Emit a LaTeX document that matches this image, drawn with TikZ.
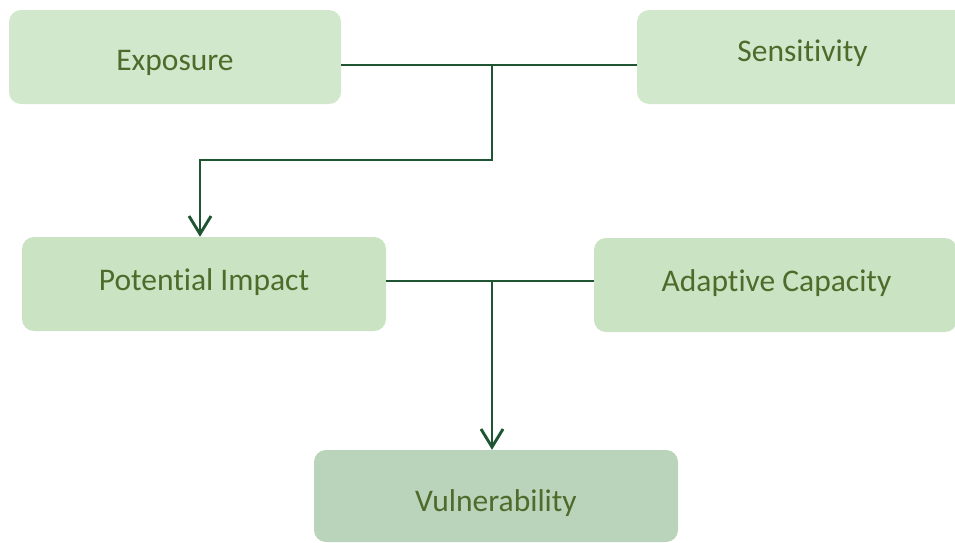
\documentclass[tikz,border=0pt]{standalone}
\usepackage{fontspec}
\setmainfont[RawFeature={-liga;-clig}]{Carlito}
\usetikzlibrary{arrows.meta}
\definecolor{boxa}{HTML}{D1E8CC}
\definecolor{boxb}{HTML}{C9E3C3}
\definecolor{boxc}{HTML}{B9D4BA}
\definecolor{txt}{HTML}{4F6A2A}
\definecolor{ln}{HTML}{1F5532}
\tikzset{
  box/.style={rectangle, rounded corners=12pt, draw=none, inner sep=0pt, minimum height=94pt},
  lbl/.style={anchor=base, inner sep=0pt, text=txt, font=\fontsize{31.5pt}{36pt}\selectfont},
  conn/.style={draw=ln, line width=2.9pt},
  arr/.style={conn, -{Straight Barb[length=18pt,width=22pt,line width=2.9pt]}}
}
\begin{document}
\begin{tikzpicture}[x=1pt,y=-1pt]
\useasboundingbox (0,0) rectangle (955,542);
\clip (0,0) rectangle (955,542);
% boxes
\node[box, fill=boxa, minimum width=332pt] (exp) at (175,57) {};
\node[box, fill=boxa, minimum width=331pt] (sen) at (802.5,57) {};
\node[box, fill=boxb, minimum width=364pt] (pot) at (204,284) {};
\node[box, fill=boxb, minimum width=363pt] (ada) at (775.5,285) {};
\node[box, fill=boxc, minimum width=364pt, minimum height=92pt] (vul) at (496,496) {};
% labels
\node[lbl] (texp) at (175,70.5) {Exposure};
\node[lbl] (tsen) at (802.5,61.5) {Sensitivity};
\node[lbl] (tpot) at (204,290) {Potential Impact};
\node[lbl] (tada) at (776.5,291) {Adaptive Capacity};
\node[lbl] (tvul) at (496,511.5) {Vulnerability};
% connectors
\coordinate (j1) at (492,65);
\coordinate (j2) at (492,281);
\draw[conn] (exp.east |- j1) -- (sen.west |- j1);
\draw[arr] (j1) -- (492,160) -| (pot.north -| 200,0);
\draw[conn] (pot.east |- j2) -- (ada.west |- j2);
\draw[arr] (j2) -- (vul.north -| j2);
\end{tikzpicture}
\end{document}
